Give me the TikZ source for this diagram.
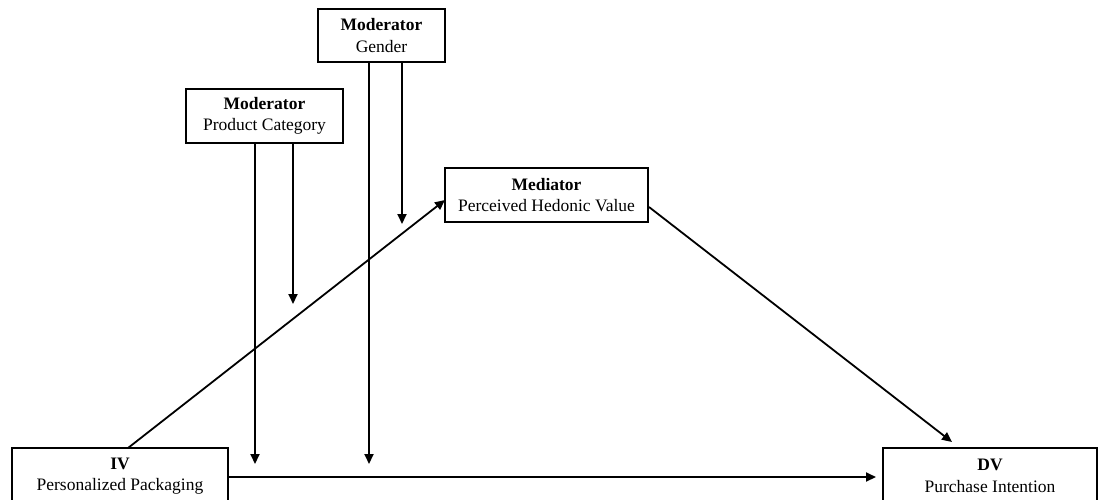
\documentclass[tikz,border=0pt]{standalone}
\usepackage{fontspec}
\setmainfont{Liberation Serif}
\usetikzlibrary{arrows.meta}
\begin{document}
\begin{tikzpicture}[x=1pt,y=-1pt,
  box/.style={draw=black,line width=1.5pt,fill=white,align=center,inner sep=0pt,outer sep=0pt,
    font=\fontsize{17.5}{21.5}\selectfont},
  conn/.style={line width=1.8pt,draw=black},
  arr/.style={conn,-{Triangle[length=10pt,width=9pt]}}]
\useasboundingbox (0,0) rectangle (1099,499);
\clip (0,0) rectangle (1099,499);
\fill[white] (0,0) rectangle (1099,499);
% nodes
\node[box,minimum width=127pt,minimum height=53pt] (gen) at (381.5,35.5) {\textbf{Moderator}\\Gender};
\node[box,minimum width=157pt,minimum height=54pt] (pc) at (264.5,116) {\textbf{Moderator}\\Product Category};
\node[box,minimum width=203pt,minimum height=54pt] (med) at (546.5,195) {\textbf{Mediator}\\Perceived Hedonic Value};
\node[box,minimum width=216pt,minimum height=56pt] (iv) at (120,476) {\textbf{IV}\\Personalized Packaging};
\node[box,minimum width=214pt,minimum height=56pt] (dv) at (990,476) {\textbf{DV}\\Purchase Intention};
% helper coordinates on the paths
\coordinate (ivtop) at (128,448);
\coordinate (medin) at (445,200);
\coordinate (medout) at (649,207);
\coordinate (dvin) at (952,442);
\coordinate (ivout) at (228,477);
\coordinate (dvl) at (876,477);
\coordinate (pcA) at (255,143);
\coordinate (pcAend) at (255,464);
\coordinate (pcB) at (293,143);
\coordinate (pcBend) at (293,304);
\coordinate (genA) at (369,62);
\coordinate (genAend) at (369,464);
\coordinate (genB) at (402,62);
\coordinate (genBend) at (402,224);
% connectors
\draw[arr] (ivtop) -- (medin);
\draw[arr] (medout) -- (dvin);
\draw[arr] (ivout) -- (dvl);
\draw[arr] (pcA) -- (pcAend);
\draw[arr] (pcB) -- (pcBend);
\draw[arr] (genA) -- (genAend);
\draw[arr] (genB) -- (genBend);
\end{tikzpicture}
\end{document}
